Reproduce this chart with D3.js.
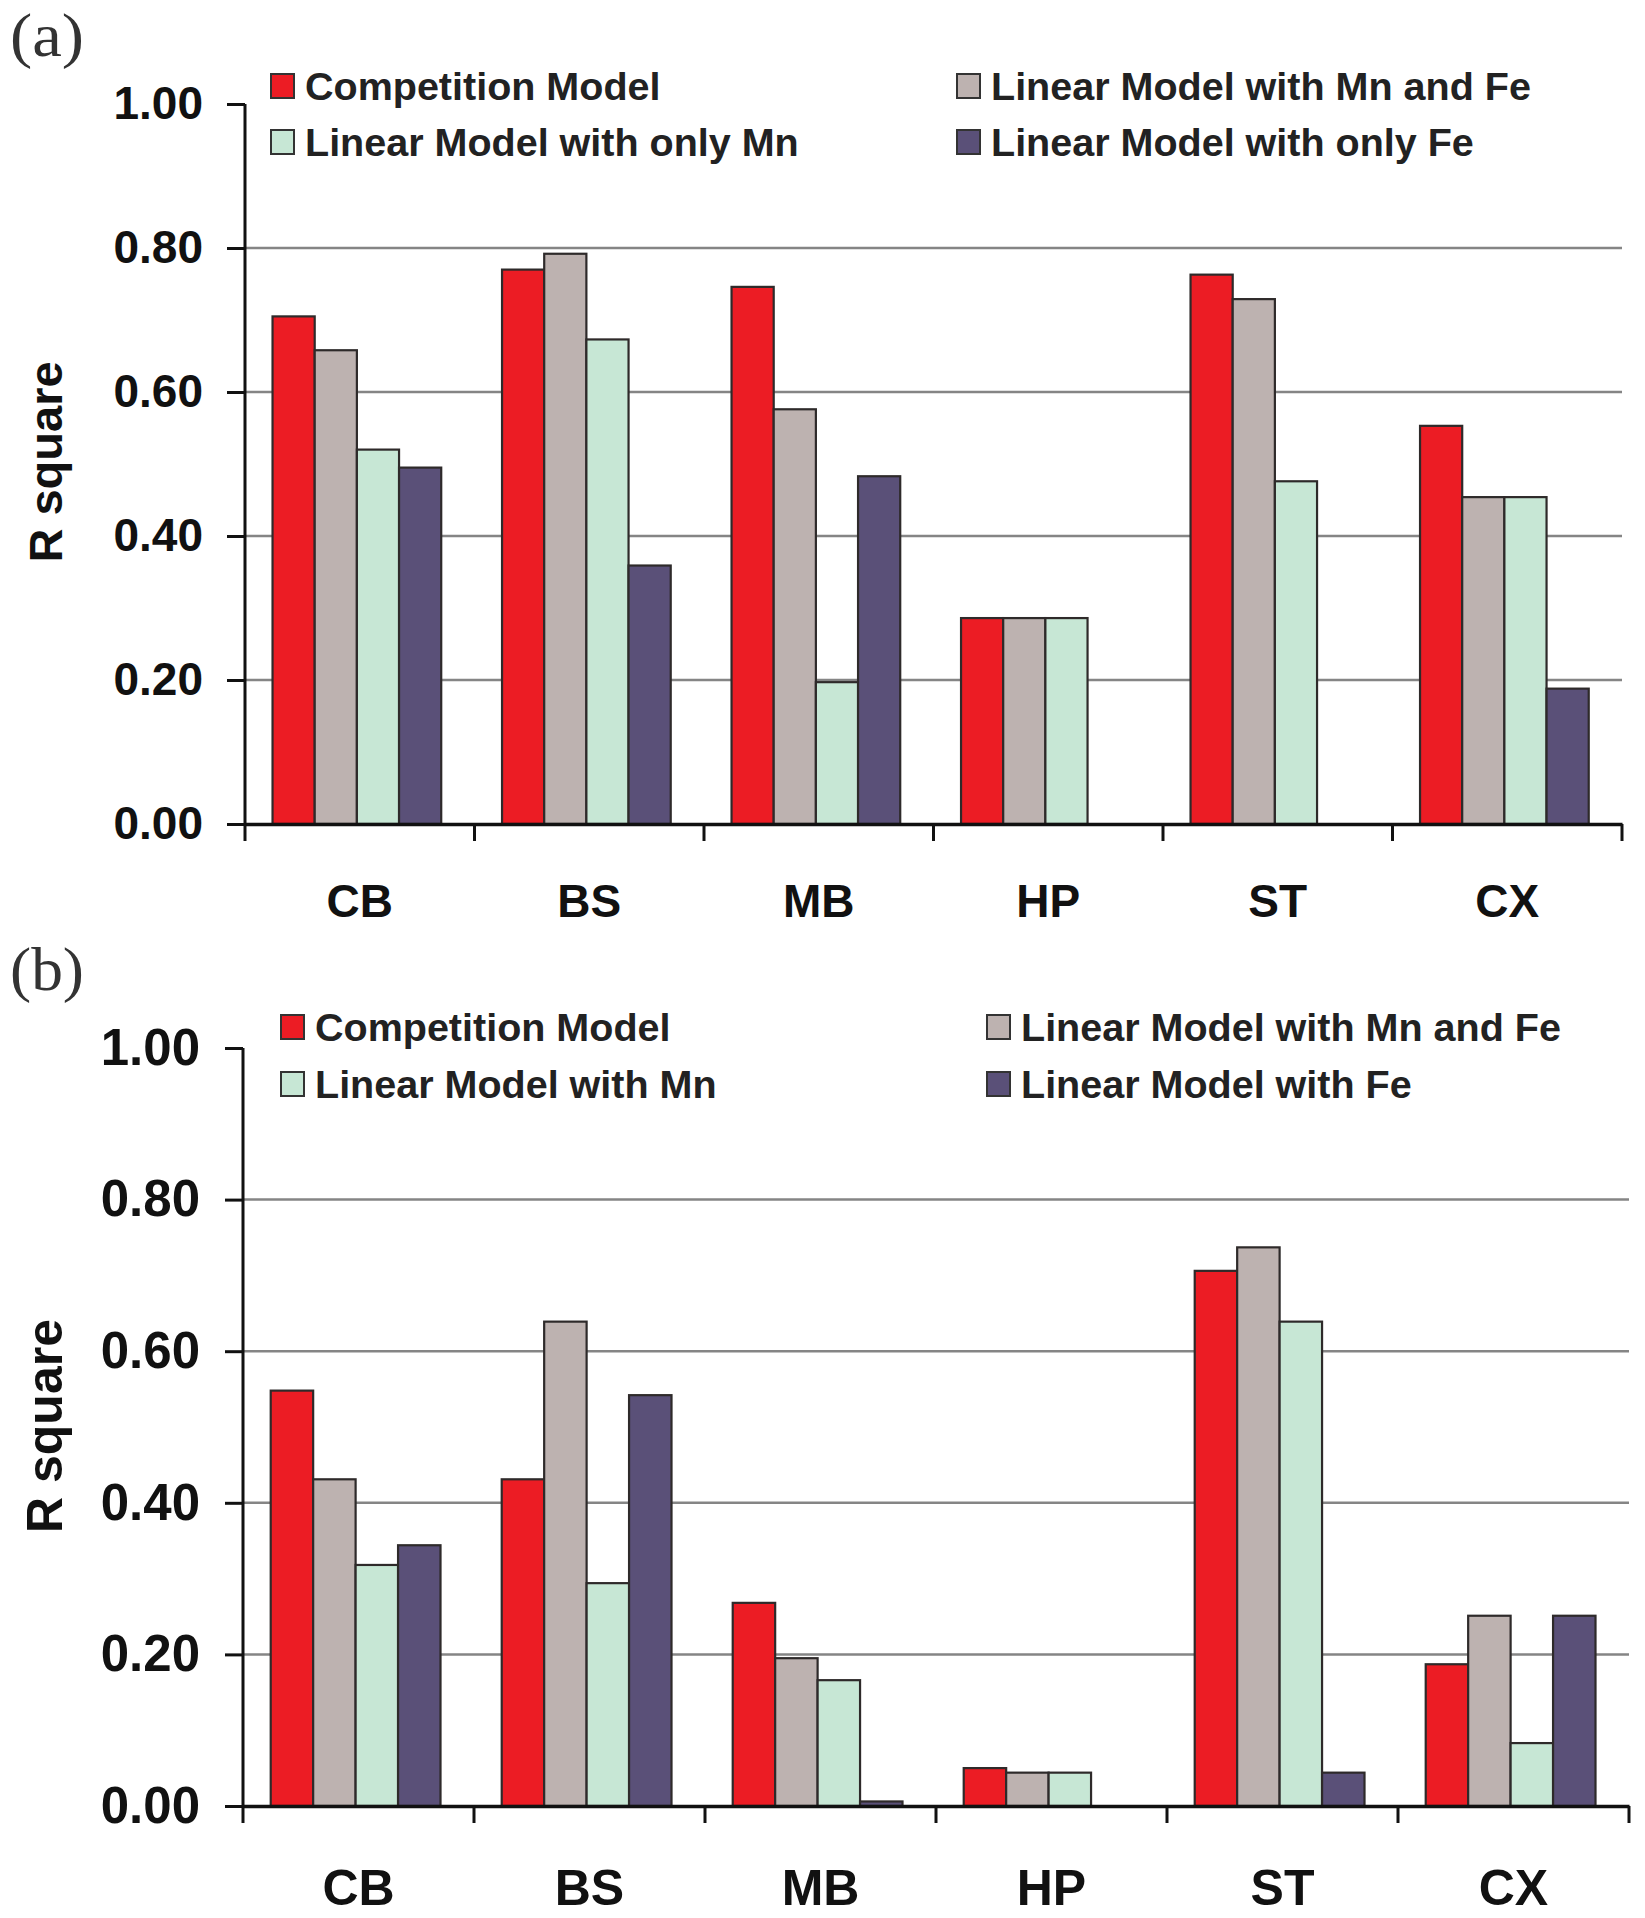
<!DOCTYPE html>
<html><head><meta charset="utf-8">
<script src="https://cdn.jsdelivr.net/npm/d3@7"></script>
<style>body{margin:0;background:#fff}svg{display:block}</style>
</head><body>
<script>
// ---- data ----
const categories = ["CB","BS","MB","HP","ST","CX"];
const yTicks = [0, 0.2, 0.4, 0.6, 0.8, 1.0];
const seriesKeys = ["comp","mnfe","mn","fe"];
const seriesColors = ["#ec1c24","#bdb2b0","#c7e7d5","#5a5078"];

const legendA = ["Competition Model","Linear Model with Mn and Fe","Linear Model with only Mn","Linear Model with only Fe"];
const legendB = ["Competition Model","Linear Model with Mn and Fe","Linear Model with Mn","Linear Model with Fe"];

const compA = [0.705, 0.770, 0.746, 0.286, 0.763, 0.553];
const mnFeA = [0.658, 0.792, 0.576, 0.286, 0.729, 0.454];
const mnA   = [0.520, 0.673, 0.197, 0.286, 0.476, 0.454];
const feA   = [0.495, 0.359, 0.483, 0.000, 0.000, 0.188];

const compB = [0.548, 0.431, 0.268, 0.050, 0.706, 0.187];
const mnFeB = [0.431, 0.639, 0.195, 0.044, 0.737, 0.251];
const mnB   = [0.318, 0.294, 0.166, 0.044, 0.639, 0.083];
const feB   = [0.344, 0.542, 0.006, 0.000, 0.044, 0.251];

const svg = d3.select("body").append("svg").attr("width",1645).attr("height",1918);
svg.append("rect").attr("width",1645).attr("height",1918).attr("fill","#fff");

const SANS = "Liberation Sans, Arial, sans-serif";

function panel(cfg){
  const g = svg.append("g");
  const x0 = d3.scaleBand().domain(categories).range([cfg.x0, cfg.x1]).padding(0);
  const bw = x0.bandwidth();
  const x1 = d3.scaleBand().domain(seriesKeys).range([bw*0.12, bw*0.855]).padding(0);
  const y = d3.scaleLinear().domain([0,1]).range([cfg.yb, cfg.yt]);
  const color = d3.scaleOrdinal().domain(seriesKeys).range(seriesColors);

  // panel letter
  g.append("text").attr("x",10).attr("y",cfg.letterY).text(cfg.letter)
    .attr("font-family","Liberation Serif, serif").attr("font-size",62)
    .attr("textLength",74).attr("lengthAdjust","spacingAndGlyphs").attr("fill","#333");

  // gridlines
  g.selectAll(".grid").data(yTicks.filter(t=>t>0 && t<1)).enter().append("line")
    .attr("x1",cfg.x0).attr("x2",cfg.x1).attr("y1",d=>y(d)).attr("y2",d=>y(d))
    .attr("stroke","#858585").attr("stroke-width",2.5);

  // bars
  const rows = categories.map((c,i)=>({cat:c, vals: seriesKeys.map((k,j)=>({key:k, v: cfg.data[j][i]}))}));
  const grp = g.selectAll(".grp").data(rows).enter().append("g")
    .attr("transform",d=>`translate(${x0(d.cat)},0)`);
  grp.selectAll("rect").data(d=>d.vals.filter(v=>v.v>0)).enter().append("rect")
    .attr("x",d=>x1(d.key)).attr("width",x1.bandwidth())
    .attr("y",d=>y(d.v)).attr("height",d=>y(0)-y(d.v))
    .attr("fill",d=>color(d.key)).attr("stroke","#2e2a2a").attr("stroke-width",2.2);

  // y axis
  const ya = g.append("g").attr("transform",`translate(${cfg.x0},0)`)
    .call(d3.axisLeft(y).tickValues(yTicks).tickFormat(d=>d.toFixed(2)).tickSize(18).tickPadding(cfg.tickPad));
  ya.select(".domain").attr("stroke","#111").attr("stroke-width",3).attr("d",`M0,${cfg.yt}V${cfg.yb}`);
  ya.selectAll(".tick line").attr("stroke","#111").attr("stroke-width",3);
  ya.selectAll(".tick text").attr("font-family",SANS)
    .attr("font-weight","bold").attr("font-size",cfg.tickFs).attr("fill","#111");

  // x axis
  const xa = g.append("g").attr("transform",`translate(0,${cfg.yb})`)
    .call(d3.axisBottom(x0).tickSize(0).tickPadding(cfg.catPad));
  xa.select(".domain").attr("stroke","#111").attr("stroke-width",3.5);
  xa.selectAll(".tick text").attr("font-family",SANS)
    .attr("font-weight","bold").attr("font-size",cfg.catFs).attr("fill","#111");
  // boundary ticks
  const bounds = categories.map(c=>x0(c)).concat([cfg.x1]);
  xa.selectAll(".btick").data(bounds).enter().append("line")
    .attr("x1",d=>d).attr("x2",d=>d).attr("y1",0).attr("y2",17)
    .attr("stroke","#111").attr("stroke-width",3);

  // y title
  g.append("text").attr("transform",`translate(${cfg.titleX},${cfg.titleY}) rotate(-90)`)
    .attr("text-anchor","middle").text("R square")
    .attr("font-family",SANS).attr("font-weight","bold")
    .attr("font-size",cfg.titleFs).attr("fill","#111");

  // legend: left col comp, mn ; right col mnfe, fe
  const legOrder = [[0,0,0],[2,0,1],[1,1,0],[3,1,1]];
  legOrder.forEach(([si,col,row])=>{
    const lx = col===0 ? cfg.legX0 : cfg.legX1;
    const ly = cfg.legY + row*cfg.legDy;
    g.append("rect").attr("x",lx).attr("y",ly-12).attr("width",23).attr("height",24)
      .attr("fill",seriesColors[si]).attr("stroke","#333").attr("stroke-width",2);
    g.append("text").attr("x",lx+34).attr("y",ly+14).text(cfg.legend[si])
      .attr("font-family",SANS).attr("font-weight","bold")
      .attr("font-size",39.5).attr("fill","#222");
  });
}

panel({letter:"(a)", letterY:56, x0:245, x1:1622, yb:824, yt:104, tickPad:24, tickFs:46,
  catFs:46, catPad:60, titleFs:47,
  data:[compA,mnFeA,mnA,feA], legend:legendA,
  titleX:62, titleY:462, legX0:271, legX1:957, legY:86, legDy:56});
panel({letter:"(b)", letterY:990, x0:243, x1:1629, yb:1806, yt:1048, tickPad:25, tickFs:51,
  catFs:50, catPad:63, titleFs:50,
  data:[compB,mnFeB,mnB,feB], legend:legendB,
  titleX:62, titleY:1426, legX0:281, legX1:987, legY:1027, legDy:57});
</script>
</body></html>
